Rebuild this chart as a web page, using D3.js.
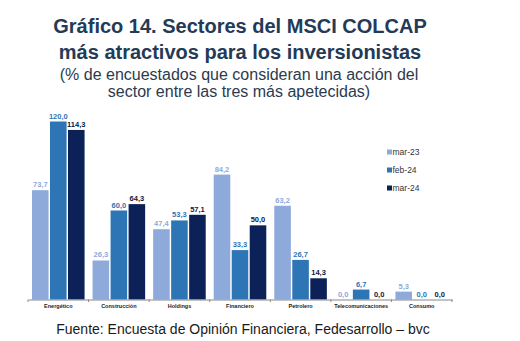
<!DOCTYPE html>
<html>
<head>
<meta charset="utf-8">
<script src="https://cdn.jsdelivr.net/npm/d3@7"></script>
<style>
  body { margin: 0; background: #fff; }
  svg { display: block; font-family: "Liberation Sans", Arial, sans-serif; }
</style>
</head>
<body>
<div id="chart"></div>
<script>
const sectores = ["Energético", "Construcción", "Holdings", "Financiero", "Petrolero", "Telecomunicaciones", "Consumo"];
const series = ["mar-23", "feb-24", "mar-24"];
const mar23 = [73.7, 26.3, 47.4, 84.2, 63.2, 0.0, 5.3];
const feb24 = [120.0, 60.0, 53.3, 33.3, 26.7, 6.7, 0.0];
const mar24 = [114.3, 64.3, 57.1, 50.0, 14.3, 0.0, 0.0];

const colores = ["#8eaadb", "#2e75b6", "#0b2158"];
const coloresTexto = ["#8eaadb", "#2e75b6", "#0b1a40"];

const width = 520, height = 341;
const base = 299.5;

const svg = d3.select("#chart").append("svg")
  .attr("width", width)
  .attr("height", height);

// titulo
const titulo = svg.append("g").attr("fill", "#243a56").attr("text-anchor", "middle");
titulo.append("text").attr("x", 240).attr("y", 33)
  .style("font-size", "20px").style("font-weight", "bold")
  .text("Gráfico 14. Sectores del MSCI COLCAP");
titulo.append("text").attr("x", 240).attr("y", 59)
  .style("font-size", "20px").style("font-weight", "bold")
  .text("más atractivos para los inversionistas");
titulo.append("text").attr("x", 239).attr("y", 80)
  .attr("fill", "#2b3b4e")
  .style("font-size", "16px")
  .text("(% de encuestados que consideran una acción del");
titulo.append("text").attr("x", 239).attr("y", 97)
  .attr("fill", "#2b3b4e")
  .style("font-size", "16px")
  .text("sector entre las tres más apetecidas)");

const x0 = d3.scaleBand()
  .domain(sectores)
  .range([28, 452])
  .paddingInner(0)
  .paddingOuter(0);

const x1 = d3.scaleBand()
  .domain(series)
  .range([4, x0.bandwidth() - 4])
  .paddingInner(0.08);

const y = d3.scaleLinear()
  .domain([0, 120])
  .range([base, base - 178]);

const datos = [mar23, feb24, mar24];
const filas = sectores.map((s, i) => ({
  sector: s,
  valores: series.map((k, j) => ({ serie: k, idx: j, v: datos[j][i] }))
}));

const grupos = svg.selectAll("g.grupo")
  .data(filas)
  .enter().append("g")
  .attr("class", "grupo")
  .attr("transform", d => "translate(" + x0(d.sector) + ",0)");

grupos.selectAll("rect")
  .data(d => d.valores)
  .enter().append("rect")
  .attr("x", d => x1(d.serie))
  .attr("y", d => y(d.v))
  .attr("width", x1.bandwidth())
  .attr("height", d => base - y(d.v))
  .attr("fill", d => colores[d.idx]);

grupos.selectAll("text")
  .data(d => d.valores)
  .enter().append("text")
  .attr("x", d => x1(d.serie) + x1.bandwidth() / 2)
  .attr("y", d => y(d.v) - 3)
  .attr("text-anchor", "middle")
  .attr("fill", d => coloresTexto[d.idx])
  .style("font-size", "7.5px")
  .style("font-weight", "bold")
  .text(d => d3.format(".1f")(d.v).replace(".", ","));

// eje x
const eje = svg.append("g")
  .attr("transform", "translate(0," + base + ")")
  .call(d3.axisBottom(x0).tickSize(0).tickPadding(5));
eje.select(".domain").attr("stroke", "#888").attr("stroke-width", 1);
eje.selectAll(".tick text")
  .attr("fill", "#222")
  .style("font-size", "5.5px")
  .style("font-weight", "bold")
  .style("font-family", "'Liberation Sans', Arial, sans-serif");
eje.selectAll(".marca")
  .data(d3.range(sectores.length + 1))
  .enter().append("line")
  .attr("class", "marca")
  .attr("x1", i => x0.range()[0] + i * x0.step())
  .attr("x2", i => x0.range()[0] + i * x0.step())
  .attr("y1", 0).attr("y2", 2.5)
  .attr("stroke", "#888");

// leyenda
const leyenda = svg.append("g").attr("transform", "translate(387,152)");
const item = leyenda.selectAll("g")
  .data(series)
  .enter().append("g")
  .attr("transform", (d, i) => "translate(0," + i * 18 + ")");
item.append("rect")
  .attr("x", 0).attr("y", -2.5)
  .attr("width", 5).attr("height", 5)
  .attr("fill", (d, i) => colores[i]);
item.append("text")
  .attr("x", 5.5).attr("y", 3)
  .attr("fill", "#333")
  .style("font-size", "8.5px")
  .text(d => d);

// fuente
svg.append("text")
  .attr("x", 243).attr("y", 334)
  .attr("text-anchor", "middle")
  .attr("fill", "#1a1a1a")
  .style("font-size", "14px")
  .text("Fuente: Encuesta de Opinión Financiera, Fedesarrollo – bvc");
</script>
</body>
</html>
